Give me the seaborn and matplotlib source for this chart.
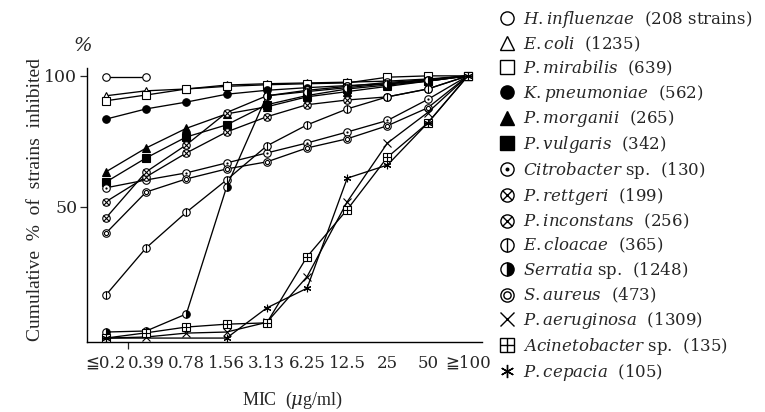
import numpy as np
import pandas as pd
import matplotlib
matplotlib.use("Agg")
import matplotlib.pyplot as plt
from matplotlib.lines import Line2D
from matplotlib.legend_handler import HandlerTuple
import seaborn as sns

sns.set_style("ticks")
SERIF = ['DejaVu Serif', 'DejaVu Sans', 'Noto Sans CJK JP']
plt.rcParams['font.family'] = SERIF
plt.rcParams['mathtext.fontset'] = 'custom'
plt.rcParams['mathtext.it'] = 'DejaVu Serif:italic'
plt.rcParams['mathtext.rm'] = 'DejaVu Serif'

nan = np.nan
mic_labels = ["≦0.2", "0.39", "0.78", "1.56", "3.13", "6.25", "12.5", "25", "50", "≧100"]

h_influenzae = [99.5, 99.5, nan, nan, nan, nan, nan, nan, nan, nan]
e_coli = [92.4, 94.3, 95.0, 96.5, 97.0, 97.3, 97.6, 98.0, 98.8, 100]
p_mirabilis = [90.5, 92.7, 95.0, 96.0, 96.6, 97.0, 97.3, 99.5, 100, 100]
k_pneumoniae = [83.5, 87.4, 90.0, 93.0, 94.5, 95.5, 96.3, 97.0, 98.0, 100]
p_morganii = [63.4, 72.5, 80.0, 85.5, 88.2, 92.0, 94.0, 96.0, 98.0, 100]
p_vulgaris = [59.5, 68.7, 76.7, 81.3, 89.0, 92.5, 95.0, 96.5, 98.0, 100]
citrobacter = [57.3, 60.3, 63.0, 66.8, 70.6, 74.4, 78.6, 83.0, 91.0, 100]
p_rettgeri = [52.0, 61.5, 70.6, 78.6, 84.4, 89.0, 90.8, 92.0, 95.0, 100]
p_inconstans = [45.8, 63.4, 73.7, 86.0, 92.4, 94.5, 96.0, 97.5, 98.5, 100]
e_cloacae = [16.4, 34.4, 48.0, 60.3, 73.3, 81.3, 87.4, 92.0, 95.0, 100]
serratia = [2.3, 2.7, 9.2, 57.6, 92.4, 94.0, 95.5, 97.0, 98.5, 100]
s_aureus = [40.0, 55.7, 60.7, 64.5, 67.2, 72.5, 76.0, 81.0, 87.8, 100]
p_aeruginosa = [0.0, 0.4, 1.9, 2.3, 6.0, 23.4, 52.0, 74.4, 86.0, 100]
acinetobacter = [0.0, 2.0, 4.2, 5.3, 5.8, 31.0, 49.0, 69.0, 82.0, 100]
p_cepacia = [0.0, nan, nan, 0.0, 11.5, 19.0, 61.0, 66.0, 82.0, 100]

names = [r"$\mathit{H.influenzae}$  (208 strains)",
         r"$\mathit{E.coli}$  (1235)",
         r"$\mathit{P.mirabilis}$  (639)",
         r"$\mathit{K.pneumoniae}$  (562)",
         r"$\mathit{P.morganii}$  (265)",
         r"$\mathit{P.vulgaris}$  (342)",
         r"$\mathit{Citrobacter}$ sp.  (130)",
         r"$\mathit{P.rettgeri}$  (199)",
         r"$\mathit{P.inconstans}$  (256)",
         r"$\mathit{E.cloacae}$  (365)",
         r"$\mathit{Serratia}$ sp.  (1248)",
         r"$\mathit{S.aureus}$  (473)",
         r"$\mathit{P.aeruginosa}$  (1309)",
         r"$\mathit{Acinetobacter}$ sp.  (135)",
         r"$\mathit{P.cepacia}$  (105)"]
values = [h_influenzae, e_coli, p_mirabilis, k_pneumoniae, p_morganii, p_vulgaris,
          citrobacter, p_rettgeri, p_inconstans, e_cloacae, serratia, s_aureus,
          p_aeruginosa, acinetobacter, p_cepacia]

# style: (base marker, facecolor, fillstyle, overlay marker, overlay size factor)
styles = [
    ('o', 'white', 'full', None, 0),
    ('^', 'white', 'full', None, 0),
    ('s', 'white', 'full', None, 0),
    ('o', 'black', 'full', None, 0),
    ('^', 'black', 'full', None, 0),
    ('s', 'black', 'full', None, 0),
    ('o', 'white', 'full', 'dot', 0.3),
    ('o', 'white', 'full', 'x', 0.7),
    ('o', 'white', 'full', 'x', 0.7),
    ('o', 'white', 'full', '|', 1.0),
    ('o', 'black', 'right', None, 0),
    ('o', 'white', 'full', 'ring', 0.55),
    ('x', 'none', 'full', None, 0),
    ('s', 'white', 'full', '+', 1.0),
    ((6, 2, 0), 'none', 'full', None, 0),
]

positions = np.arange(len(mic_labels))

fig = plt.figure(figsize=(7.65, 4.12), dpi=100)
ax = fig.add_axes([87/765, 1-342/412, (482-87)/765, (342-68)/412])

MS = 5.4
HS = 9.5
handles = []
for vals, (mk, fc, fs, ov, of) in zip(values, styles):
    df = pd.DataFrame({'pos': positions, 'pct': vals}).dropna()
    kw = dict(marker=mk, markersize=MS, markeredgecolor='black', markeredgewidth=0.8,
              markerfacecolor=fc, fillstyle=fs)
    if fs != 'full':
        kw['markerfacecoloralt'] = 'white'
    sns.lineplot(data=df, x='pos', y='pct', ax=ax, color='black', linewidth=0.95,
                 estimator=None, sort=False, legend=False, **kw)
    hkw = dict(kw)
    hkw['markersize'] = HS
    hkw['markeredgewidth'] = 1.0
    base_h = Line2D([], [], linestyle='none', color='black', **hkw)
    if ov is None:
        handles.append(base_h)
        continue
    if ov == 'dot':
        okw = dict(marker='o', markerfacecolor='black', markeredgecolor='black', markeredgewidth=0)
    elif ov == 'ring':
        okw = dict(marker='o', markerfacecolor='none', markeredgecolor='black', markeredgewidth=0.8)
    else:
        okw = dict(marker=ov, markeredgecolor='black', markeredgewidth=0.8)
    sns.lineplot(data=df, x='pos', y='pct', ax=ax, color='black', linestyle='none',
                 estimator=None, sort=False, legend=False, markersize=MS*of, **okw)
    ohkw = dict(okw)
    ohkw['markeredgewidth'] = 1.0 if ov != 'dot' else 0
    ov_h = Line2D([], [], linestyle='none', color='black', markersize=HS*of, **ohkw)
    handles.append((base_h, ov_h))

ax.set_xlim(-0.47, 9.35)
ax.set_ylim(-1.5, 103)
ax.set_xticks(positions)
ax.set_xticklabels(mic_labels, fontsize=12)
ax.tick_params(axis='x', which='major', length=0, pad=9)
ax.set_xticks([0.55, 2, 3, 4, 5, 6, 7, 8, 9], minor=True)
ax.tick_params(axis='x', which='minor', length=5, width=0.9, direction='out')
ax.set_yticks([50, 100])
ax.set_yticklabels(["50", "100"], fontsize=12.5)
ax.tick_params(axis='y', length=5, width=0.9, direction='out', pad=2)
for s in ['top', 'right']:
    ax.spines[s].set_visible(False)
for s in ['left', 'bottom']:
    ax.spines[s].set_linewidth(1.0)
    ax.spines[s].set_color('black')
ax.set_xlabel(r"MIC  ($\mu$g/ml)", fontsize=13, family=['Liberation Serif', 'DejaVu Serif'])
ax.xaxis.set_label_coords(0.52, -0.175)
ax.set_ylabel("Cumulative  %  of  strains  inhibited", fontsize=14,
              family=['Liberation Serif', 'DejaVu Serif'])
ax.yaxis.set_label_coords(-0.11, 0.52)
fig.text(83/765, 1-46/412, "%", fontsize=14, style='italic', ha='center', va='center')

fig.legend(handles, names, loc='upper left', bbox_to_anchor=(487/765, 1+3/412),
           frameon=False, fontsize=12, handler_map={tuple: HandlerTuple(ndivide=1)},
           handlelength=1.0, handletextpad=0.45, labelspacing=0.29, borderpad=0.2)

fig.savefig("out.png", dpi=100)
